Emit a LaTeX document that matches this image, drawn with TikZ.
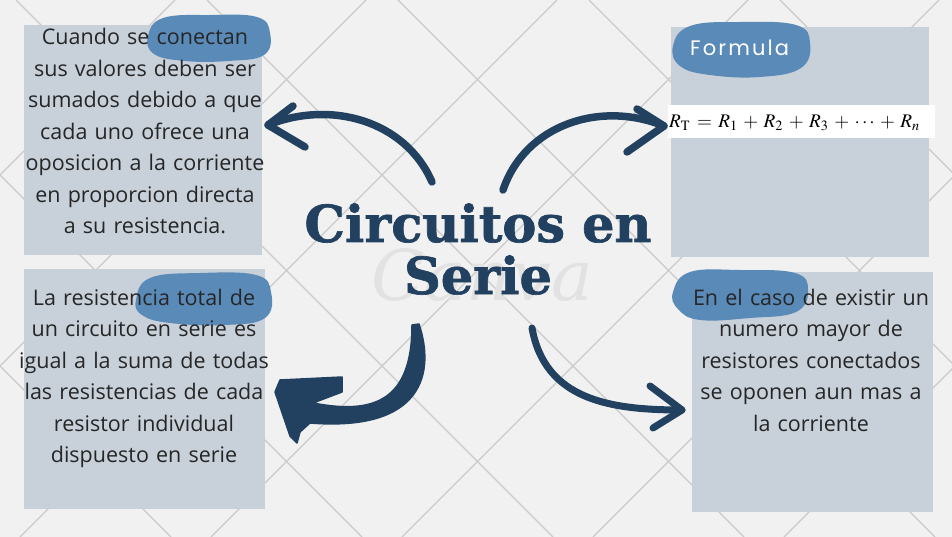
\documentclass[tikz,border=0pt]{standalone}
\usepackage{graphicx}
\usepackage{mathptmx}
\usepackage[no-math]{fontspec}
\setmainfont{Open Sans}
\newfontfamily\titlefont[BoldFeatures={FakeBold=1.3}]{DejaVu Serif}
\newfontfamily\labelfont[LetterSpace=10]{Poppins}
\newfontfamily\wmfont{DejaVu Serif}
\definecolor{paper}{HTML}{F1F1F1}
\definecolor{gridc}{HTML}{CACACA}
\definecolor{boxc}{HTML}{C8D0DA}
\definecolor{blobc}{HTML}{5A8AB8}
\definecolor{navy}{HTML}{22405F}
\definecolor{txt}{HTML}{262626}
\definecolor{wmc}{HTML}{E2E2E2}
\tikzset{
  infobox/.style={fill=boxc, draw=none, anchor=north west, inner sep=0pt},
  bodytext/.style={text=txt, text width=262pt, align=center, anchor=base, inner sep=0pt,
    font=\fontsize{21.5}{31.5}\selectfont},
  blob/.style={fill=blobc, draw=none},
  brush/.style={draw=navy, line width=7.5pt, line cap=round, line join=round},
}
\begin{document}
\begin{tikzpicture}[x=1pt,y=-1pt]
\useasboundingbox (0,0) rectangle (952,537);
\fill[paper] (0,0) rectangle (952,537);
\begin{scope}
  \clip (0,0) rectangle (952,537);
  \foreach \c in {-16,175,366,557,748,939,1130,1321,1512}
    \draw[gridc, line width=1.1pt] (\c,0) -- ({\c-537},537);
  \foreach \d in {-557,-366,-175,16,207,398,589,780,971}
    \draw[gridc, line width=1.1pt] (\d,0) -- ({\d+537},537);
\end{scope}

% boxes
\node[infobox, minimum width=238pt, minimum height=230pt] (tl) at (24,25) {};
\node[infobox, minimum width=258pt, minimum height=230pt] (tr) at (671,27) {};
\node[infobox, minimum width=241pt, minimum height=240pt] (bl) at (24,269) {};
\node[infobox, minimum width=241pt, minimum height=240pt] (br) at (692,272) {};

% blobs
\fill[blob] plot[smooth cycle, tension=0.7] coordinates {(148,36) (163,18) (210,15) (257,17) (270,33) (264,55) (228,61) (185,61) (154,54)};
\fill[blob] plot[smooth cycle, tension=0.7] coordinates {(673,46) (690,26) (740,22) (796,25) (810,43) (801,68) (760,77) (710,75) (680,66)};
\fill[blob] plot[smooth cycle, tension=0.7] coordinates {(136,300) (150,278) (200,273) (256,275) (271,292) (265,318) (225,325) (170,323) (142,315)};
\fill[blob] plot[smooth cycle, tension=0.7] coordinates {(673,292) (690,272) (740,270) (795,273) (808,290) (796,312) (750,318) (700,320) (678,309)};

% formula strip
\fill[white] (668,105) rectangle (935,138);
\node[anchor=base west, inner sep=0pt] (formula) at (669,128)
  {\resizebox{251pt}{!}{$\medmuskip=5mu\thickmuskip=6mu R_{\mathrm{T}} = R_1 + R_2 + R_3 + \cdots + R_n$}};
\node[anchor=base west, inner sep=0pt, text=white, font=\labelfont\fontsize{21}{24}\selectfont] (flabel) at (690,56) {Formula};

% body texts
\node[bodytext] (ttl) at (145,45) {Cuando se conectan\\sus valores deben ser\\sumados debido a que\\cada uno ofrece una\\oposicion a la corriente\\en proporcion directa\\a su resistencia.};
\node[bodytext] (tbl) at (144,305) {La resistencia total de\\un circuito en serie es\\igual a la suma de todas\\las resistencias de cada\\resistor individual\\dispuesto en serie};
\node[bodytext] (tbr) at (811,305) {En el caso de existir un\\numero mayor de\\resistores conectados\\se oponen aun mas a\\la corriente};

% watermark
\node[anchor=base, inner sep=0pt, text=wmc, font=\wmfont\itshape\fontsize{70}{70}\selectfont] (wm) at (482,300) {Canva};

% title
\node[anchor=base, inner sep=0pt, text=navy, text width=420pt, align=center, font=\titlefont\bfseries\fontsize{51}{52}\selectfont] (title) at (478,242) {Circuitos en\\Serie};

% arrows
\coordinate (a1s) at (432,182); \coordinate (a1t) at (268,125);
\coordinate (a2s) at (503,190); \coordinate (a2t) at (664,126);
\coordinate (a4s) at (532,328); \coordinate (a4t) at (682,410);
\draw[brush] (a1s) .. controls (405,120) and (330,100) .. (a1t);
\draw[brush] (293,106) -- (a1t) -- (305,147);
\draw[brush] (a2s) .. controls (525,125) and (600,100) .. (a2t);
\draw[brush] (637,109) -- (a2t) -- (627,152);
\draw[brush, line width=7pt] (a4s) .. controls (545,400) and (610,410) .. (a4t);
\draw[brush, line width=7pt] (650,386) -- (a4t) -- (653,428);
\fill[navy, draw=navy, line width=1.5pt, line join=round] (412,325) -- (419,324) .. controls (435,372) and (424,432) .. (310,423) -- (300,432) -- (297,443) -- (290,436) -- (275,392) -- (280,380) -- (342,377) -- (342,392) -- (313,403) .. controls (375,415) and (412,400) .. (412,325) -- cycle;
\end{tikzpicture}
\end{document}
